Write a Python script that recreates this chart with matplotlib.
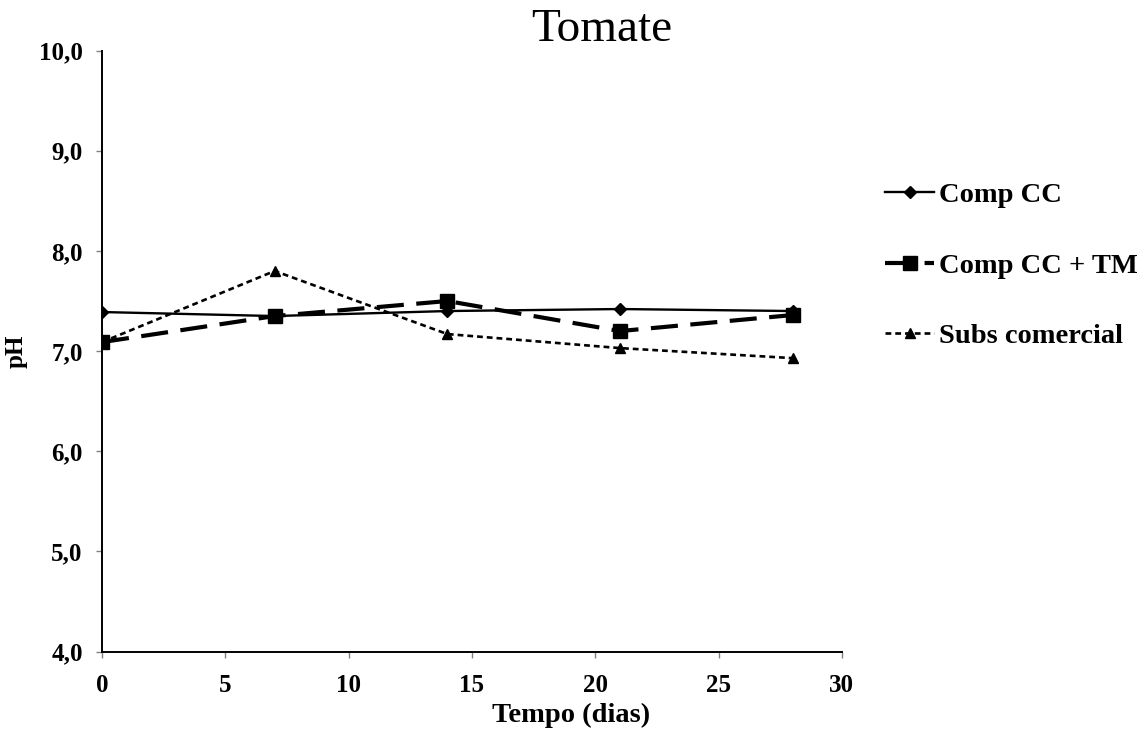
import matplotlib
matplotlib.use("Agg")
import matplotlib.pyplot as plt
from matplotlib.ticker import FuncFormatter

plt.rcParams['font.family'] = ['Liberation Serif', 'DejaVu Serif']

dias = [0, 7, 14, 21, 28]
comp_cc = [7.39, 7.35, 7.40, 7.42, 7.40]
comp_cc_tm = [7.09, 7.35, 7.50, 7.20, 7.36]
subs_comercial = [7.09, 7.80, 7.17, 7.03, 6.93]

fig = plt.figure(figsize=(11.47, 7.33), dpi=100)
ax = fig.add_axes([0.089, 0.111, 0.645, 0.820])

ax.plot(dias, comp_cc, color='black', lw=1.7, marker='D', ms=6, label='Comp CC')
ax.plot(dias, comp_cc_tm, color='black', lw=3, marker='s', ms=10.5,
        dashes=(6.5, 3), label='Comp CC + TM')
ax.plot(dias, subs_comercial, color='black', lw=1.9, marker='^', ms=7,
        dashes=(2.2, 1.5), label='Subs comercial')

ax.set_xlim(0, 30)
ax.set_ylim(4, 10)
ax.set_xticks(range(0, 31, 5))
ax.set_yticks(range(4, 11))
ax.yaxis.set_major_formatter(FuncFormatter(lambda v, p: f"{v:.1f}".replace('.', ',')))

for s in ['top', 'right']:
    ax.spines[s].set_visible(False)
for s in ['left', 'bottom']:
    ax.spines[s].set_linewidth(1.4)
ax.tick_params(direction='out', length=4, width=1, color='gray', labelsize=18)
ax.tick_params(axis='y', pad=10)
ax.tick_params(axis='x', pad=12)
for lab in ax.get_xticklabels() + ax.get_yticklabels():
    lab.set_fontweight('bold')

ax.set_xlabel('Tempo (dias)', fontsize=20.5, fontweight='bold')
ax.xaxis.set_label_coords(0.634, -0.085)
ax.set_ylabel('pH', fontsize=18, fontweight='bold')
ax.yaxis.set_label_coords(-0.101, 0.5)
fig.text(0.525, 0.988, 'Tomate', fontsize=34, ha='center', va='top')

fig.legend(loc='upper left', bbox_to_anchor=(0.762, 0.767), frameon=False,
           prop={'weight': 'bold', 'size': 20.5},
           handlelength=1.7, handletextpad=0.18, labelspacing=1.57,
           borderaxespad=0)

fig.savefig('out.png', dpi=100)
